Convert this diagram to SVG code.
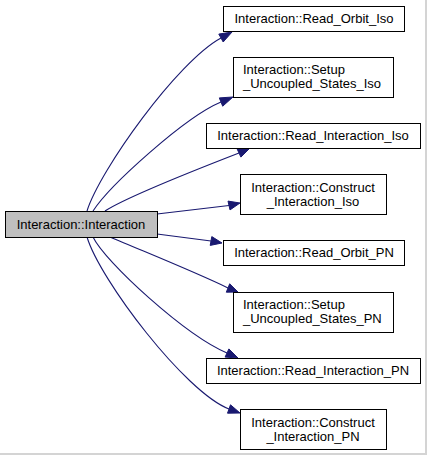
<svg xmlns="http://www.w3.org/2000/svg" width="427" height="455" viewBox="0 0 427 455">
<style>
.n rect{fill:#ffffff;stroke:#000000;stroke-width:1}
.n text{font-family:"Liberation Sans",Arial,sans-serif;font-size:13px;fill:#000000}
.c{text-anchor:middle}
.e path{fill:none;stroke:#191970;stroke-width:1.1}
.e polygon{fill:#191970;stroke:#191970;stroke-width:1}
</style>
<rect x="0" y="0" width="427" height="455" fill="#ffffff"/>
<rect x="425" y="0" width="2" height="455" fill="#d4d4d4"/>
<rect x="0" y="453" width="427" height="2" fill="#d4d4d4"/>
<g id="edges" class="e">
<path d="M87,211 C100,170 177,62 221,38"/>
<polygon points="223.2,42 232,32 218.8,34.1"/>
<path d="M93,211 C110,185 185,117 221,102"/>
<polygon points="222.7,106.2 233,97 219.3,97.9"/>
<path d="M105,211 C125,198 190,172 239,153"/>
<polygon points="240.9,157.1 250,148 237.1,148.9"/>
<path d="M157,214 L229,205.5"/>
<polygon points="230,209.9 240,203 228,201.1"/>
<path d="M157,234 L211,241"/>
<polygon points="210.2,245.4 222,243 211.8,236.6"/>
<path d="M110,237 C145,252 195,272 228,288"/>
<polygon points="226.3,292.2 238,292 229.7,283.8"/>
<path d="M93,237 C105,262 185,335 227,353"/>
<polygon points="225.1,357.1 238,358 228.9,348.9"/>
<path d="M87,237 C100,280 185,392 229,409"/>
<polygon points="227.5,413.2 240,413 230.5,404.8"/>
</g>
<g id="main" class="n">
<rect x="5.5" y="211.5" width="152" height="26" style="fill:#bfbfbf"/>
<text class="c" x="81" y="228.5">Interaction::Interaction</text>
</g>
<g id="n1" class="n">
<rect x="223.5" y="6.5" width="181" height="25"/>
<text class="c" x="314" y="23">Interaction::Read_Orbit_Iso</text>
</g>
<g id="n2" class="n">
<rect x="233.5" y="57.5" width="160" height="40"/>
<text x="243" y="74">Interaction::Setup</text>
<text x="243" y="88">_Uncoupled_States_Iso</text>
</g>
<g id="n3" class="n">
<rect x="206.5" y="123.5" width="214" height="25"/>
<text class="c" x="313" y="140">Interaction::Read_Interaction_Iso</text>
</g>
<g id="n4" class="n">
<rect x="240.5" y="174.5" width="146" height="40"/>
<text class="c" x="313" y="191.5">Interaction::Construct</text>
<text class="c" x="313" y="205.5">_Interaction_Iso</text>
</g>
<g id="n5" class="n">
<rect x="223.5" y="240.5" width="181" height="25"/>
<text class="c" x="314" y="257">Interaction::Read_Orbit_PN</text>
</g>
<g id="n6" class="n">
<rect x="233.5" y="292.5" width="160" height="40"/>
<text x="243" y="309">Interaction::Setup</text>
<text x="243" y="323">_Uncoupled_States_PN</text>
</g>
<g id="n7" class="n">
<rect x="206.5" y="358.5" width="214" height="25"/>
<text class="c" x="313" y="375">Interaction::Read_Interaction_PN</text>
</g>
<g id="n8" class="n">
<rect x="240.5" y="409.5" width="146" height="40"/>
<text class="c" x="313" y="426.5">Interaction::Construct</text>
<text class="c" x="313" y="440.5">_Interaction_PN</text>
</g>
</svg>
